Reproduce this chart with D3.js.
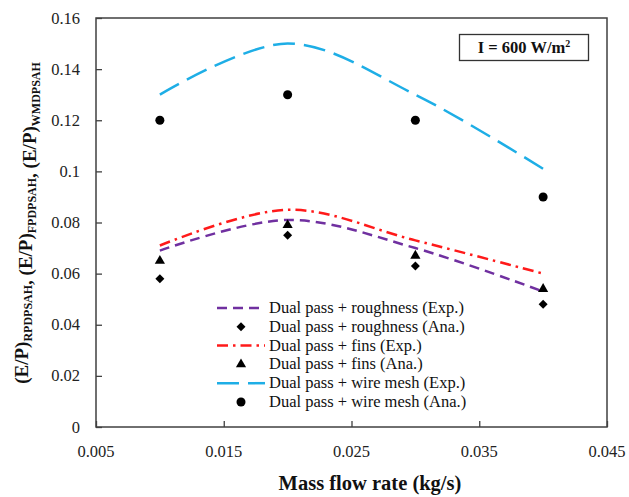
<!DOCTYPE html>
<html>
<head>
<meta charset="utf-8">
<script src="https://cdn.jsdelivr.net/npm/d3@7"></script>
<style>
  html, body { margin: 0; padding: 0; background: #fff; }
</style>
</head>
<body>
<svg id="chart" width="629" height="497" font-family="Liberation Serif, DejaVu Serif, Times New Roman, Times, serif"></svg>
<script>
// Mass flow rate (kg/s)
const massFlow = [0.01, 0.02, 0.03, 0.04];

// Effective efficiency / power ratios
const roughnessExp = [0.069, 0.081, 0.070, 0.053];
const roughnessAna = [0.058, 0.075, 0.063, 0.048];
const finsExp      = [0.071, 0.085, 0.073, 0.060];
const finsAna      = [0.065, 0.079, 0.067, 0.054];
const meshExp      = [0.130, 0.150, 0.130, 0.101];
const meshAna      = [0.120, 0.130, 0.120, 0.090];

const xTicks = [0.005, 0.015, 0.025, 0.035, 0.045];
const xTickLabels = ["0.005", "0.015", "0.025", "0.035", "0.045"];
const yTicks = [0, 0.02, 0.04, 0.06, 0.08, 0.1, 0.12, 0.14, 0.16];
const yTickLabels = ["0", "0.02", "0.04", "0.06", "0.08", "0.1", "0.12", "0.14", "0.16"];

const seriesLabels = [
  "Dual pass + roughness (Exp.)",
  "Dual pass + roughness (Ana.)",
  "Dual pass + fins (Exp.)",
  "Dual pass + fins (Ana.)",
  "Dual pass + wire mesh (Exp.)",
  "Dual pass + wire mesh (Ana.)"
];

const FONT = "'Liberation Serif', 'DejaVu Serif', 'Times New Roman', Times, serif";

const svg = d3.select("#chart");
const margin = { left: 96, right: 22, top: 18, bottom: 70 };
const W = 629, H = 497;
const plotW = W - margin.left - margin.right;
const plotH = H - margin.top - margin.bottom;

const x = d3.scaleLinear().domain([0.005, 0.045]).range([margin.left, margin.left + plotW]);
const y = d3.scaleLinear().domain([0, 0.16]).range([margin.top + plotH, margin.top]);

const frameColor = "#404040";

// Plot frame
svg.append("rect")
  .attr("x", margin.left).attr("y", margin.top)
  .attr("width", plotW).attr("height", plotH)
  .attr("fill", "none").attr("stroke", frameColor).attr("stroke-width", 1.5);

// Axes: inward ticks, labels placed separately
const xAxis = d3.axisBottom(x).tickValues(xTicks).tickSize(-6).tickFormat("");
svg.append("g").attr("transform", `translate(0,${margin.top + plotH})`).call(xAxis)
  .call(g => g.select(".domain").remove())
  .call(g => g.selectAll("line").attr("stroke", frameColor).attr("stroke-width", 1.3));

const yAxis = d3.axisLeft(y).tickValues(yTicks).tickSize(-6).tickFormat("");
svg.append("g").attr("transform", `translate(${margin.left},0)`).call(yAxis)
  .call(g => g.select(".domain").remove())
  .call(g => g.selectAll("line").attr("stroke", frameColor).attr("stroke-width", 1.3));

// Tick labels
svg.append("g").selectAll("text").data(xTicks).join("text")
  .attr("x", d => x(d)).attr("y", margin.top + plotH + 30)
  .attr("text-anchor", "middle").attr("font-size", 16.5).attr("fill", "#222")
  .style("font-family", FONT)
  .text((d, i) => xTickLabels[i]);

svg.append("g").selectAll("text").data(yTicks).join("text")
  .attr("x", margin.left - 16).attr("y", d => y(d) + 5.5)
  .attr("text-anchor", "end").attr("font-size", 16.5).attr("fill", "#222")
  .style("font-family", FONT)
  .text((d, i) => yTickLabels[i]);

// Axis titles
svg.append("text")
  .attr("x", 370).attr("y", 490)
  .attr("text-anchor", "middle").attr("font-size", 20.5).attr("font-weight", "bold").attr("fill", "#111")
  .style("font-family", FONT)
  .text("Mass flow rate (kg/s)");

const yTitle = svg.append("text")
  .attr("transform", "translate(28,223) rotate(-90)")
  .attr("text-anchor", "middle").attr("font-size", 19).attr("font-weight", "bold").attr("fill", "#111")
  .style("font-family", FONT);
[["(E/P)", "RPDPSAH"], [", (E/P)", "FPDPSAH"], [", (E/P)", "WMDPSAH"]].forEach(([main, sub]) => {
  yTitle.append("tspan").attr("dy", 0).text(main);
  yTitle.append("tspan").attr("dy", 4).attr("font-size", 12).text(sub);
  yTitle.append("tspan").attr("dy", -4).attr("font-size", 19).text("");
});

// Smoothed experimental lines
const line = d3.line().x(d => x(d[0])).y(d => y(d[1])).curve(d3.curveCatmullRom.alpha(0));
const styles = {
  roughness: { color: "#7030A0", dash: "10,6", width: 2.5 },
  fins:      { color: "#FF1A1A", dash: "11,5,2.5,5", width: 2.5 },
  mesh:      { color: "#1EAEE6", dash: "22,9", width: 2.5 }
};
const expSeries = [
  { key: "mesh", values: meshExp },
  { key: "fins", values: finsExp },
  { key: "roughness", values: roughnessExp }
];
expSeries.forEach(s => {
  svg.append("path")
    .datum(massFlow.map((m, i) => [m, s.values[i]]))
    .attr("d", line)
    .attr("fill", "none")
    .attr("stroke", styles[s.key].color)
    .attr("stroke-width", styles[s.key].width)
    .attr("stroke-dasharray", styles[s.key].dash);
});

// Analytical markers
const diamond = d3.symbol().type(d3.symbolSquare).size(40);
const triangle = d3.symbol().type(d3.symbolTriangle).size(45);
const circle = d3.symbol().type(d3.symbolCircle).size(64);

svg.append("g").selectAll("path").data(massFlow.map((m, i) => [m, roughnessAna[i]])).join("path")
  .attr("transform", d => `translate(${x(d[0])},${y(d[1])}) rotate(45)`).attr("d", diamond).attr("fill", "#000");
svg.append("g").selectAll("path").data(massFlow.map((m, i) => [m, finsAna[i]])).join("path")
  .attr("transform", d => `translate(${x(d[0])},${y(d[1])})`).attr("d", triangle).attr("fill", "#000");
svg.append("g").selectAll("path").data(massFlow.map((m, i) => [m, meshAna[i]])).join("path")
  .attr("transform", d => `translate(${x(d[0])},${y(d[1])})`).attr("d", circle).attr("fill", "#000");

// Legend
const legend = svg.append("g");
const lx0 = 217, lx1 = 265, ly0 = 308, lstep = 18.8;
const legendItems = [
  { type: "line", s: styles.roughness },
  { type: "mark", sym: diamond, rot: 45 },
  { type: "line", s: styles.fins },
  { type: "mark", sym: triangle, rot: 0 },
  { type: "line", s: styles.mesh },
  { type: "mark", sym: circle, rot: 0 }
];
legendItems.forEach((it, i) => {
  const cy = ly0 + i * lstep;
  if (it.type === "line") {
    legend.append("line")
      .attr("x1", lx0).attr("x2", lx1).attr("y1", cy).attr("y2", cy)
      .attr("stroke", it.s.color).attr("stroke-width", it.s.width)
      .attr("stroke-dasharray", it.s.dash);
  } else {
    legend.append("path")
      .attr("transform", `translate(${(lx0 + lx1) / 2},${cy}) rotate(${it.rot})`)
      .attr("d", it.sym).attr("fill", "#000");
  }
  legend.append("text")
    .attr("x", lx1 + 4).attr("y", cy + 5)
    .attr("font-size", 16.5).attr("fill", "#111")
    .style("font-family", FONT)
    .text(seriesLabels[i]);
});

// Irradiance annotation
svg.append("rect")
  .attr("x", 459.5).attr("y", 34.5).attr("width", 129).attr("height", 26)
  .attr("fill", "#fff").attr("stroke", "#333").attr("stroke-width", 1.3);
const ann = svg.append("text")
  .attr("x", 524).attr("y", 53).attr("text-anchor", "middle")
  .attr("font-size", 16.5).attr("font-weight", "bold").attr("fill", "#111")
  .style("font-family", FONT);
ann.append("tspan").text("I = 600 W/m");
ann.append("tspan").attr("dy", -6).attr("font-size", 10).text("2");
</script>
</body>
</html>
